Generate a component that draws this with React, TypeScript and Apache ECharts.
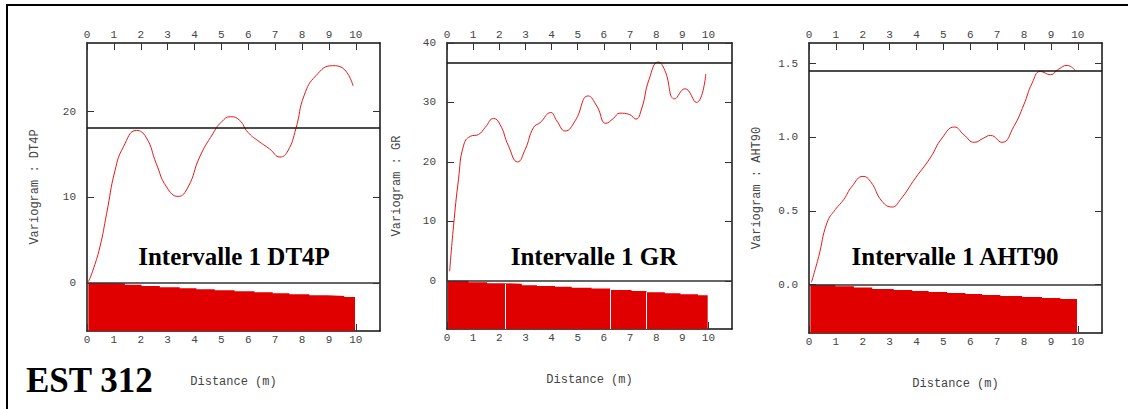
import React, { useEffect, useRef } from "react";
import * as echarts from "echarts";

// ---------- DATA ----------
const distanceTicks = [0, 1, 2, 3, 4, 5, 6, 7, 8, 9, 10];

// Panel 1 : DT4P
const dt4pDist = [0.05, 0.2, 0.48, 0.73, 1.04, 1.35, 1.84, 2.2, 2.58, 2.96, 3.39, 3.76, 4.19, 4.68, 4.99, 5.34, 5.67, 5.98, 6.36, 6.79, 7.18, 7.47, 7.77, 8.08, 8.52, 9.13, 9.5, 9.9];
const dt4pGamma = [0.15, 1.3, 4.2, 8.1, 13.1, 15.85, 17.8, 17.0, 13.9, 11.2, 10.1, 11.2, 14.7, 17.4, 18.75, 19.4, 19.0, 17.6, 16.6, 15.65, 14.7, 15.4, 18.0, 21.9, 24.2, 25.35, 25.1, 23.0];
const dt4pSill = 18.1;
const dt4pBinEdges = [0.05, 0.73, 1.41, 2.03, 2.71, 3.45, 4.07, 4.75, 5.49, 6.23, 6.91, 7.53, 8.27, 8.95, 9.57, 9.97];
const dt4pBinTops = [0, -0.04, -0.19, -0.35, -0.5, -0.62, -0.74, -0.85, -0.97, -1.09, -1.2, -1.32, -1.43, -1.51, -1.63];
const dt4pYTicks = [0, 10, 20];
const dt4pBarGaps: number[] = [];

// Panel 2 : GR
const grDist = [0.1, 0.25, 0.44, 0.63, 0.89, 1.2, 1.46, 1.78, 2.03, 2.35, 2.7, 2.99, 3.31, 3.56, 3.97, 4.2, 4.52, 4.9, 5.4, 5.73, 6.08, 6.36, 6.61, 6.97, 7.22, 7.44, 7.73, 8.08, 8.33, 8.71, 9.1, 9.54, 9.9];
const grGamma = [1.6, 9.2, 17.1, 22.7, 24.3, 24.6, 25.8, 27.3, 26.3, 22.7, 20.0, 22.1, 25.8, 26.6, 28.3, 26.9, 25.2, 26.9, 31.1, 29.4, 26.5, 27.3, 28.2, 28.0, 27.2, 28.9, 33.9, 36.8, 35.4, 30.6, 32.3, 30.0, 34.8];
const grSill = 36.6;
const grBinEdges = [0.04, 0.82, 1.53, 2.2, 2.86, 3.44, 4.13, 4.77, 5.53, 6.24, 7.06, 7.63, 8.33, 8.93, 9.6, 9.97];
const grBinTops = [0, -0.23, -0.4, -0.51, -0.73, -0.85, -1.01, -1.18, -1.3, -1.52, -1.69, -1.91, -2.08, -2.25, -2.42];
const grYTicks = [0, 10, 20, 30, 40];
const grBarGaps = [2.22, 6.24, 7.63];

// Panel 3 : AHT90
const ahtDist = [0.09, 0.36, 0.67, 0.98, 1.29, 1.6, 2.01, 2.29, 2.72, 3.09, 3.4, 3.96, 4.51, 4.95, 5.41, 5.76, 6.15, 6.5, 6.75, 7.18, 7.62, 7.99, 8.3, 8.61, 8.98, 9.29, 9.6, 9.9];
const ahtGamma = [0.016, 0.19, 0.42, 0.51, 0.577, 0.667, 0.735, 0.7, 0.565, 0.527, 0.577, 0.724, 0.86, 0.995, 1.07, 1.018, 0.966, 0.995, 1.013, 0.966, 1.074, 1.22, 1.368, 1.447, 1.425, 1.463, 1.488, 1.455];
const ahtSill = 1.45;
const ahtBinEdges = [0.05, 0.98, 1.67, 2.35, 3.15, 3.84, 4.45, 5.14, 5.82, 6.44, 7.12, 7.93, 8.67, 9.35, 9.97];
const ahtBinTops = [0, -0.011, -0.02, -0.029, -0.036, -0.043, -0.05, -0.056, -0.063, -0.07, -0.077, -0.083, -0.09, -0.097];
const ahtYTicks = [0, 0.5, 1.0, 1.5];
const ahtBarGaps: number[] = [];

const panelNames = ["DT4P", "GR", "AHT90"];
const wellName = "EST 312";

// ---------- LAYOUT / STYLE ----------
const layout = [
  { left: 87, top: 43, width: 293, height: 288, yMin: -5.6, yMax: 28, decimals: 0, nameGap: 46, titleX: 234, titleY: 256 },
  { left: 447, top: 43, width: 285, height: 286, yMin: -8.1, yMax: 40, decimals: 0, nameGap: 44, titleX: 594, titleY: 256 },
  { left: 809, top: 43, width: 293, height: 290, yMin: -0.328, yMax: 1.64, decimals: 1, nameGap: 46, titleX: 955, titleY: 256 },
];

const monoFont = "'Liberation Mono', 'DejaVu Sans Mono', monospace";
const serifFont = "'Liberation Serif', 'DejaVu Serif', serif";
const labelColor = "#444";
const axisColor = "#111";

const panelData = [
  { dist: dt4pDist, gamma: dt4pGamma, sill: dt4pSill, edges: dt4pBinEdges, tops: dt4pBinTops, yTicks: dt4pYTicks, gaps: dt4pBarGaps },
  { dist: grDist, gamma: grGamma, sill: grSill, edges: grBinEdges, tops: grBinTops, yTicks: grYTicks, gaps: grBarGaps },
  { dist: ahtDist, gamma: ahtGamma, sill: ahtSill, edges: ahtBinEdges, tops: ahtBinTops, yTicks: ahtYTicks, gaps: ahtBarGaps },
];

function topAt(edges: number[], tops: number[], x: number) {
  for (let k = 0; k < tops.length; k++) {
    if (x >= edges[k] && x < edges[k + 1]) return tops[k];
  }
  return tops[tops.length - 1];
}

function buildOption() {
  const grid: any[] = [];
  const xAxis: any[] = [];
  const yAxis: any[] = [];
  const series: any[] = [];
  const graphic: any[] = [];

  panelData.forEach((p, i) => {
    const L = layout[i];
    grid.push({ left: L.left, top: L.top, width: L.width, height: L.height, containLabel: false });
    const xCommon = (pos: string) => ({
      gridIndex: i,
      type: "value",
      min: 0,
      max: 10.9,
      position: pos,
      axisLine: { show: true, onZero: false, lineStyle: { color: axisColor, width: 1.5 } },
      axisTick: { show: true, inside: true, length: 7, customValues: distanceTicks, lineStyle: { color: "#333", width: 1 } },
      axisLabel: {
        show: true,
        customValues: distanceTicks,
        margin: 3,
        color: labelColor,
        fontFamily: monoFont,
        fontSize: 11,
      },
      splitLine: { show: false },
    });
    xAxis.push({
      ...xCommon("bottom"),
      name: "Distance (m)",
      nameLocation: "middle",
      nameGap: 45,
      nameTextStyle: { color: labelColor, fontFamily: monoFont, fontSize: 12 },
    });
    xAxis.push(xCommon("top"));

    const yCommon = (pos: string, showLabel: boolean) => ({
      gridIndex: i,
      type: "value",
      min: L.yMin,
      max: L.yMax,
      position: pos,
      axisLine: { show: true, onZero: false, lineStyle: { color: axisColor, width: 1.5 } },
      axisTick: { show: true, inside: true, length: 7, customValues: p.yTicks, lineStyle: { color: "#333", width: 1 } },
      axisLabel: {
        show: showLabel,
        customValues: p.yTicks,
        margin: 11,
        color: labelColor,
        fontFamily: monoFont,
        fontSize: 11,
        formatter: (v: number) => v.toFixed(L.decimals),
      },
      splitLine: { show: false },
    });
    yAxis.push({
      ...yCommon("left", true),
      name: "Variogram : " + panelNames[i],
      nameLocation: "middle",
      nameGap: L.nameGap,
      nameTextStyle: { color: labelColor, fontFamily: monoFont, fontSize: 12 },
    });
    yAxis.push(yCommon("right", false));

    // pair-count histogram as a stepped area filled down to axis min
    const stepData = p.tops.map((v, k) => [p.edges[k], v]);
    stepData.push([p.edges[p.edges.length - 1], p.tops[p.tops.length - 1]]);
    series.push({
      type: "line",
      xAxisIndex: 2 * i,
      yAxisIndex: 2 * i,
      data: stepData,
      step: "end",
      showSymbol: false,
      lineStyle: { width: 0, color: "#e00000" },
      areaStyle: { color: "#e00000", opacity: 1, origin: "start" },
      z: 1,
      silent: true,
      markLine: p.gaps.length
        ? {
            silent: true,
            symbol: ["none", "none"],
            label: { show: false },
            lineStyle: { color: "#fff", type: "solid", width: 1 },
            data: p.gaps.map((g) => [
              { coord: [g, L.yMin] },
              { coord: [g, topAt(p.edges, p.tops, g)] },
            ]),
          }
        : undefined,
    });
    // experimental variogram
    series.push({
      type: "line",
      xAxisIndex: 2 * i,
      yAxisIndex: 2 * i,
      data: p.dist.map((d, k) => [d, p.gamma[k]]),
      smooth: 0.5,
      showSymbol: false,
      lineStyle: { width: 1, color: "#e81818" },
      z: 3,
      silent: true,
      markLine: {
        silent: true,
        symbol: ["none", "none"],
        label: { show: false },
        lineStyle: { color: "#111", type: "solid", width: 1.5 },
        data: [{ yAxis: p.sill }, { yAxis: 0, lineStyle: { color: "#333", type: "solid", width: 1.5 } }],
      },
    });

    graphic.push({
      type: "text",
      x: L.titleX,
      y: L.titleY,
      style: {
        text: "Intervalle 1 " + panelNames[i],
        font: "bold 25px " + serifFont,
        fill: "#000",
        textAlign: "center",
        textVerticalAlign: "middle",
      },
      z: 10,
    });
  });

  graphic.push({
    type: "rect",
    shape: { x: 7, y: 5, width: 1135, height: 420 },
    style: { fill: "none", stroke: "#000", lineWidth: 2 },
    z: 0,
    silent: true,
  });
  graphic.push({
    type: "text",
    x: 26,
    y: 380,
    style: {
      text: wellName,
      font: "bold 35px " + serifFont,
      fill: "#000",
      textAlign: "left",
      textVerticalAlign: "middle",
    },
    z: 10,
  });

  return {
    animation: false,
    backgroundColor: "#fff",
    grid,
    xAxis,
    yAxis,
    series,
    graphic,
  };
}

export default function App() {
  const ref = useRef<HTMLDivElement>(null);
  useEffect(() => {
    if (!ref.current) return;
    const chart = echarts.init(ref.current, undefined, { renderer: "svg" });
    chart.setOption(buildOption() as any);
    return () => chart.dispose();
  }, []);
  return (
    <div
      ref={ref}
      style={{ position: "fixed", left: 0, top: 0, width: 1128, height: 409, background: "#fff" }}
    />
  );
}
